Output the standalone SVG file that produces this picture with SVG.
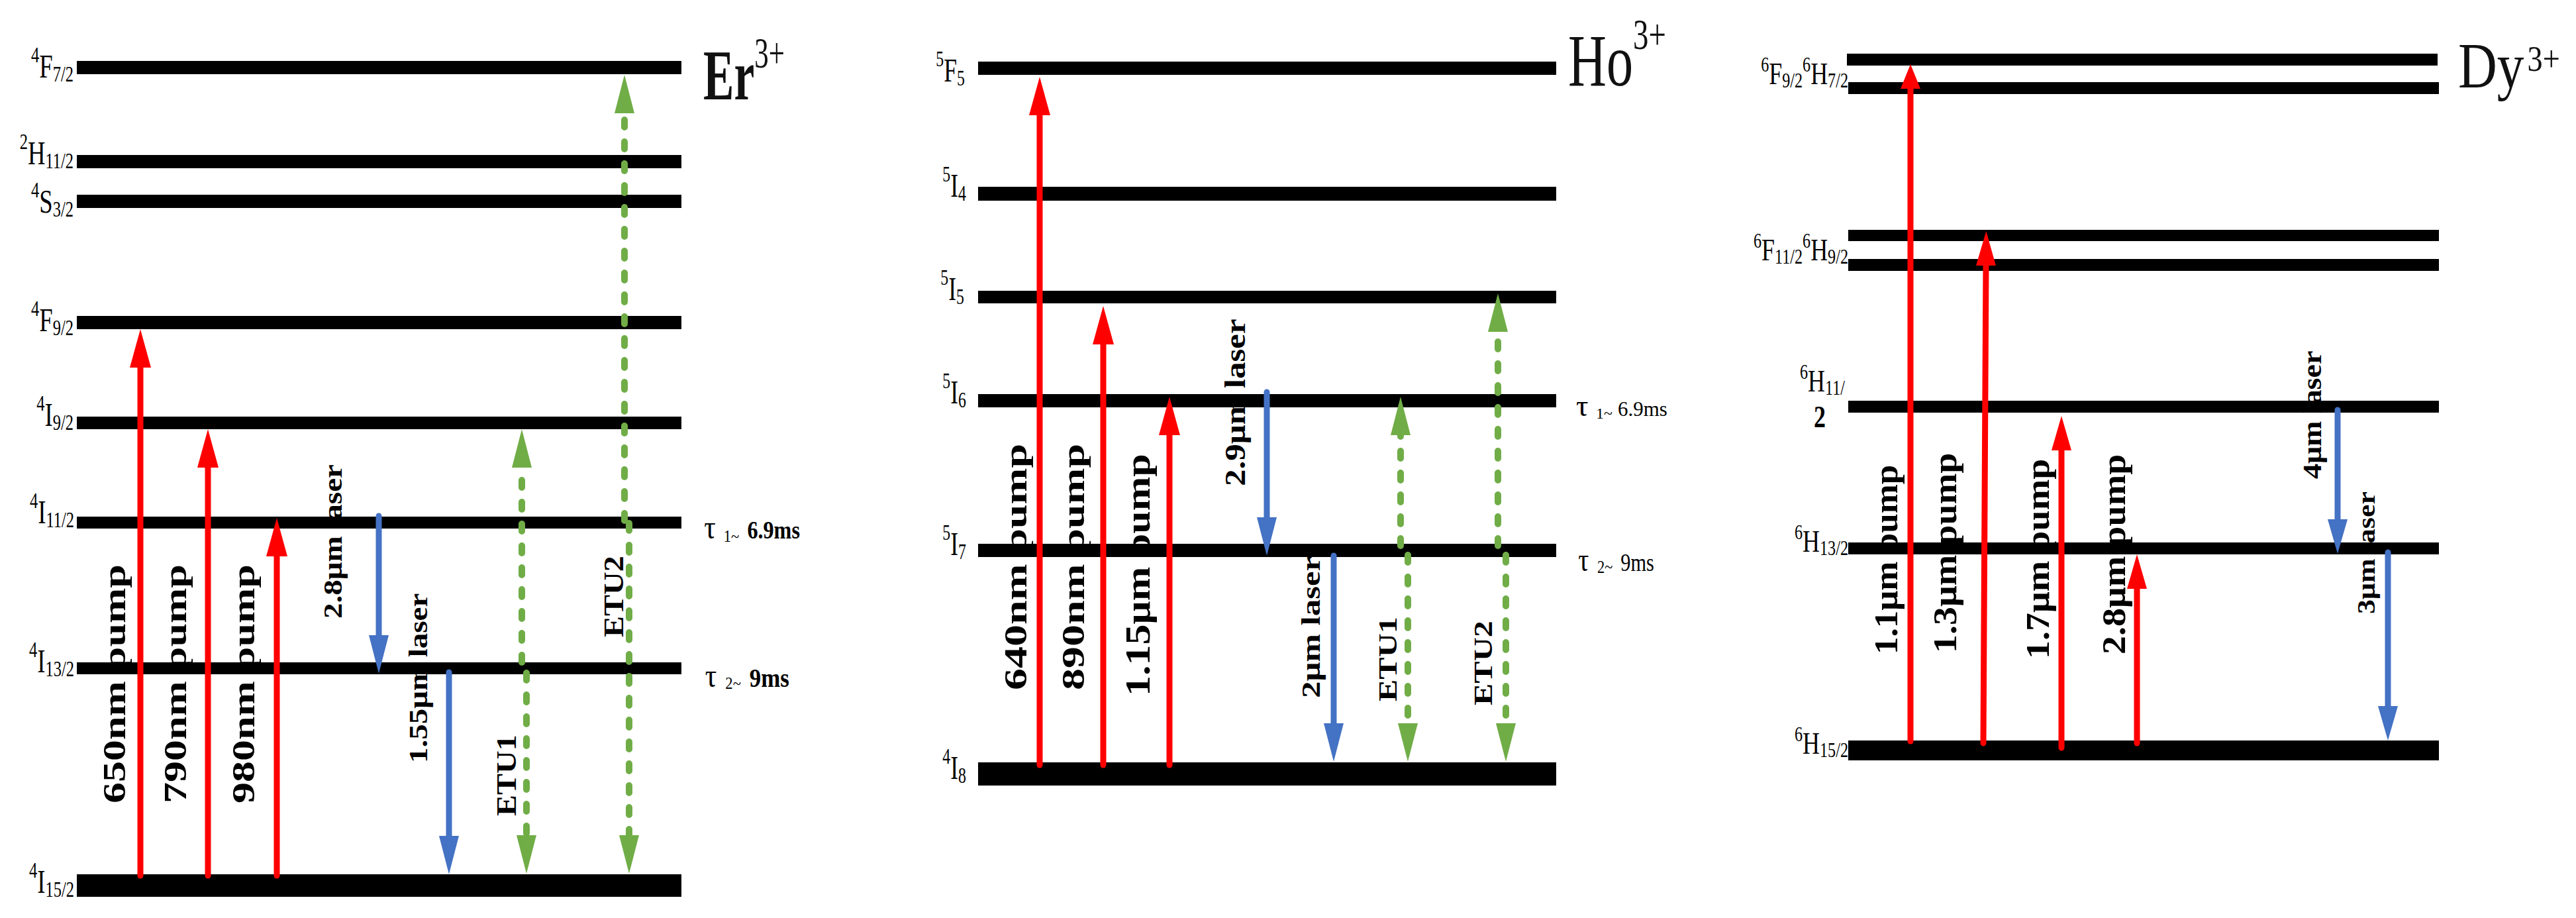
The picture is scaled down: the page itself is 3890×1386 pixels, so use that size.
<svg xmlns="http://www.w3.org/2000/svg" width="3890" height="1386" viewBox="0 0 3890 1386">
<style>
text{font-family:"Liberation Serif","Times New Roman",serif;fill:#000}
.lv{font-size:51px}
.lv .s{font-size:34px}
.dl{font-size:46px}
.dl .s{font-size:31px}
.rl{font-weight:bold}
.ttl{fill:#111}
.bar{fill:#000}
.pump{stroke:#FF0000;stroke-width:9;stroke-linecap:round;fill:none}
.laser{stroke:#4472C4;stroke-width:9;stroke-linecap:round;fill:none}
.etu{stroke:#70AD47;stroke-width:10;stroke-linecap:round;stroke-dasharray:11 22;fill:none}
</style>
<defs>
<marker id="hR" markerUnits="userSpaceOnUse" viewBox="0 0 58 32" markerWidth="58" markerHeight="32" refX="1" refY="16" orient="auto"><path d="M0,0L58,16L0,32z" fill="#FF0000"/></marker>
<marker id="hR2" markerUnits="userSpaceOnUse" viewBox="0 0 52 30" markerWidth="52" markerHeight="30" refX="1" refY="15" orient="auto"><path d="M0,0L52,15L0,30z" fill="#FF0000"/></marker>
<marker id="hR3" markerUnits="userSpaceOnUse" viewBox="0 0 37 30" markerWidth="37" markerHeight="30" refX="1" refY="15" orient="auto"><path d="M0,0L37,15L0,30z" fill="#FF0000"/></marker>
<marker id="hB" markerUnits="userSpaceOnUse" viewBox="0 0 58 30" markerWidth="58" markerHeight="30" refX="1" refY="15" orient="auto"><path d="M0,0L58,15L0,30z" fill="#4472C4"/></marker>
<marker id="hB2" markerUnits="userSpaceOnUse" viewBox="0 0 52 30" markerWidth="52" markerHeight="30" refX="1" refY="15" orient="auto"><path d="M0,0L52,15L0,30z" fill="#4472C4"/></marker>
<marker id="hG" markerUnits="userSpaceOnUse" viewBox="0 0 58 30" markerWidth="58" markerHeight="30" refX="1" refY="15" orient="auto"><path d="M0,0L58,15L0,30z" fill="#70AD47"/></marker>
</defs>
<rect width="3890" height="1386" fill="#fff"/>

<g id="transition-labels" class="rl">
<text font-size="64" transform="translate(189,1213) scale(0.76,1) rotate(-90)">650nm pump</text>
<text font-size="64" transform="translate(281,1213) scale(0.76,1) rotate(-90)">790nm pump</text>
<text font-size="64" transform="translate(384,1213) scale(0.76,1) rotate(-90)">980nm pump</text>
<text font-size="47" transform="translate(516,934) scale(0.87,1) rotate(-90)">2.8μm laser</text>
<text font-size="47" transform="translate(645,1152) scale(0.87,1) rotate(-90)">1.55μm laser</text>
<text font-size="48" transform="translate(779,1232) scale(0.87,1) rotate(-90)">ETU1</text>
<text font-size="48" transform="translate(941,962) scale(0.87,1) rotate(-90)">ETU2</text>

<text font-size="66" transform="translate(1550,1042) scale(0.74,1) rotate(-90)">640nm pump</text>
<text font-size="66" transform="translate(1637,1042) scale(0.74,1) rotate(-90)">890nm pump</text>
<text font-size="62" transform="translate(1736,1051) scale(0.84,1) rotate(-90)">1.15μm pump</text>
<text font-size="51" transform="translate(1880,734) scale(0.85,1) rotate(-90)">2.9μm laser</text>
<text font-size="51" transform="translate(1993,1054) scale(0.8,1) rotate(-90)">2μm laser</text>
<text font-size="50" transform="translate(2109,1059) scale(0.8,1) rotate(-90)">ETU1</text>
<text font-size="50" transform="translate(2253,1065) scale(0.8,1) rotate(-90)">ETU2</text>

<text font-size="53" transform="translate(2865,988) scale(0.95,1) rotate(-90)">1.1μm pump</text>
<text font-size="56" transform="translate(2954,986) scale(0.9,1) rotate(-90)">1.3μm pump</text>
<text font-size="56" transform="translate(3094,995) scale(0.9,1) rotate(-90)">1.7μm pump</text>
<text font-size="56" transform="translate(3209,988) scale(0.9,1) rotate(-90)">2.8μm pump</text>
<text font-size="46" transform="translate(3505,723) scale(0.85,1) rotate(-90)">4μm laser</text>
<text font-size="44" transform="translate(3586,927) scale(0.85,1) rotate(-90)">3μm laser</text>
</g>

<g id="titles">
<text class="ttl" transform="translate(1062,150) scale(0.65,1)"><tspan font-weight="bold" font-size="107">Er</tspan><tspan font-size="66" dy="-48">3+</tspan></text>
<text class="ttl" transform="translate(2368,129) scale(0.71,1)"><tspan font-size="113">Ho</tspan><tspan font-size="66" dy="-55">3+</tspan></text>
<text class="ttl" transform="translate(3712,132) scale(0.84,1)"><tspan font-size="97">Dy</tspan><tspan font-size="55" dx="6" dy="-25">3+</tspan></text>
</g>

<g id="lifetimes">
<text transform="translate(0,813) scale(0.87,1)"><tspan x="1222" font-size="50">τ</tspan><tspan x="1256" font-size="26" dy="5">1~</tspan><tspan x="1297" dy="-5" font-weight="bold" font-size="37">6.9ms</tspan></text>
<text transform="translate(0,1037) scale(0.87,1)"><tspan x="1224" font-size="50">τ</tspan><tspan x="1259" font-size="26" dy="3">2~</tspan><tspan x="1301" dy="-3" font-weight="bold" font-size="40">9ms</tspan></text>
<text y="628"><tspan x="2380" font-size="46">τ</tspan><tspan x="2410" font-size="24" dy="4">1~</tspan><tspan x="2443" dy="-4" font-size="31">6.9ms</tspan></text>
<text transform="translate(0,862) scale(0.8,1)"><tspan x="2979" font-size="50">τ</tspan><tspan x="3015" font-size="28" dy="3">2~</tspan><tspan x="3059" dy="-3" font-size="38">9ms</tspan></text>
</g>

<g id="er-levels">
<g id="er-4F72"><rect class="bar" x="116" y="92" width="913" height="20"/><text class="lv" text-anchor="end" transform="translate(111,117) scale(0.72,1)"><tspan class="s" dy="-23">4</tspan><tspan dy="23">F</tspan><tspan class="s" dy="6">7/2</tspan></text></g>
<g id="er-2H112"><rect class="bar" x="116" y="234" width="913" height="20"/><text class="lv" text-anchor="end" transform="translate(111,248) scale(0.72,1)"><tspan class="s" dy="-23">2</tspan><tspan dy="23">H</tspan><tspan class="s" dy="6">11/2</tspan></text></g>
<g id="er-4S32"><rect class="bar" x="116" y="294" width="913" height="20"/><text class="lv" text-anchor="end" transform="translate(111,321) scale(0.72,1)"><tspan class="s" dy="-23">4</tspan><tspan dy="23">S</tspan><tspan class="s" dy="6">3/2</tspan></text></g>
<g id="er-4F92"><rect class="bar" x="116" y="477" width="913" height="20"/><text class="lv" text-anchor="end" transform="translate(111,500) scale(0.72,1)"><tspan class="s" dy="-23">4</tspan><tspan dy="23">F</tspan><tspan class="s" dy="6">9/2</tspan></text></g>
<g id="er-4I92"><rect class="bar" x="116" y="629" width="913" height="19"/><text class="lv" text-anchor="end" transform="translate(111,643) scale(0.72,1)"><tspan class="s" dy="-23">4</tspan><tspan dy="23">I</tspan><tspan class="s" dy="6">9/2</tspan></text></g>
<g id="er-4I112"><rect class="bar" x="116" y="780" width="913" height="18"/><text class="lv" text-anchor="end" transform="translate(112,790) scale(0.72,1)"><tspan class="s" dy="-23">4</tspan><tspan dy="23">I</tspan><tspan class="s" dy="6">11/2</tspan></text></g>
<g id="er-4I132"><rect class="bar" x="116" y="1000" width="913" height="18"/><text class="lv" text-anchor="end" transform="translate(112,1015) scale(0.72,1)"><tspan class="s" dy="-23">4</tspan><tspan dy="23">I</tspan><tspan class="s" dy="6">13/2</tspan></text></g>
<g id="er-4I152"><rect class="bar" x="116" y="1320" width="913" height="34"/><text class="lv" text-anchor="end" transform="translate(112,1348) scale(0.72,1)"><tspan class="s" dy="-23">4</tspan><tspan dy="23">I</tspan><tspan class="s" dy="6">15/2</tspan></text></g>
</g>

<g id="ho-levels">
<g id="ho-5F5"><rect class="bar" x="1477" y="93" width="873" height="20"/><text class="lv" text-anchor="end" transform="translate(1457,123) scale(0.7,1)"><tspan class="s" dy="-23">5</tspan><tspan dy="23">F</tspan><tspan class="s" dy="6">5</tspan></text></g>
<g id="ho-5I4"><rect class="bar" x="1477" y="282" width="873" height="21"/><text class="lv" text-anchor="end" transform="translate(1459,297) scale(0.7,1)"><tspan class="s" dy="-23">5</tspan><tspan dy="23">I</tspan><tspan class="s" dy="6">4</tspan></text></g>
<g id="ho-5I5"><rect class="bar" x="1477" y="439" width="873" height="19"/><text class="lv" text-anchor="end" transform="translate(1456,453) scale(0.7,1)"><tspan class="s" dy="-23">5</tspan><tspan dy="23">I</tspan><tspan class="s" dy="6">5</tspan></text></g>
<g id="ho-5I6"><rect class="bar" x="1477" y="595" width="873" height="20"/><text class="lv" text-anchor="end" transform="translate(1459,609) scale(0.7,1)"><tspan class="s" dy="-23">5</tspan><tspan dy="23">I</tspan><tspan class="s" dy="6">6</tspan></text></g>
<g id="ho-5I7"><rect class="bar" x="1477" y="821" width="873" height="20"/><text class="lv" text-anchor="end" transform="translate(1459,838) scale(0.7,1)"><tspan class="s" dy="-23">5</tspan><tspan dy="23">I</tspan><tspan class="s" dy="6">7</tspan></text></g>
<g id="ho-4I8"><rect class="bar" x="1477" y="1151" width="873" height="35"/><text class="lv" text-anchor="end" transform="translate(1459,1176) scale(0.7,1)"><tspan class="s" dy="-23">4</tspan><tspan dy="23">I</tspan><tspan class="s" dy="6">8</tspan></text></g>
</g>

<g id="dy-levels">
<g id="dy-6F92-6H72"><rect class="bar" x="2789" y="81" width="892" height="18"/><rect class="bar" x="2791" y="124" width="892" height="18"/><text class="dl" text-anchor="end" transform="translate(2791,127) scale(0.78,1)"><tspan class="s" dy="-19">6</tspan><tspan dy="19">F</tspan><tspan class="s" dy="5">9/2</tspan><tspan class="s" dy="-24">6</tspan><tspan dy="19">H</tspan><tspan class="s" dy="5">7/2</tspan></text></g>
<g id="dy-6F112-6H92"><rect class="bar" x="2791" y="347" width="892" height="17"/><rect class="bar" x="2791" y="391" width="892" height="18"/><text class="dl" text-anchor="end" transform="translate(2791,393) scale(0.78,1)"><tspan class="s" dy="-19">6</tspan><tspan dy="19">F</tspan><tspan class="s" dy="5">11/2</tspan><tspan class="s" dy="-24">6</tspan><tspan dy="19">H</tspan><tspan class="s" dy="5">9/2</tspan></text></g>
<g id="dy-6H112"><rect class="bar" x="2791" y="605" width="892" height="18"/><text class="dl" text-anchor="end" transform="translate(2786,591) scale(0.78,1)"><tspan class="s" dy="-19">6</tspan><tspan dy="19">H</tspan><tspan class="s" dy="5">11/</tspan></text><text class="dl" text-anchor="middle" font-size="24" font-weight="bold" transform="translate(2748,645) scale(0.78,1)">2</text></g>
<g id="dy-6H132"><rect class="bar" x="2791" y="819" width="892" height="18"/><text class="dl" text-anchor="end" transform="translate(2791,833) scale(0.78,1)"><tspan class="s" dy="-19">6</tspan><tspan dy="19">H</tspan><tspan class="s" dy="5">13/2</tspan></text></g>
<g id="dy-6H152"><rect class="bar" x="2791" y="1118" width="892" height="30"/><text class="dl" text-anchor="end" transform="translate(2791,1138) scale(0.78,1)"><tspan class="s" dy="-19">6</tspan><tspan dy="19">H</tspan><tspan class="s" dy="5">15/2</tspan></text></g>
</g>

<g id="connectors">
<path class="pump" d="M212,1322V554" marker-end="url(#hR)"/>
<path class="pump" d="M314,1322V705" marker-end="url(#hR)"/>
<path class="pump" d="M418,1322V839" marker-end="url(#hR)"/>
<path class="laser" d="M572,779V960" marker-end="url(#hB)"/>
<path class="laser" d="M678,1015V1263" marker-end="url(#hB)"/>
<path class="etu" d="M788,1000V705" marker-end="url(#hG)"/>
<path class="etu" d="M795,1016V1262" marker-end="url(#hG)"/>
<path class="etu" d="M943,786V170" marker-end="url(#hG)"/>
<path class="etu" d="M950,790V1262" marker-end="url(#hG)"/>

<path class="pump" d="M1570,1155V173" marker-end="url(#hR)"/>
<path class="pump" d="M1666,1155V519" marker-end="url(#hR)"/>
<path class="pump" d="M1766,1155V656" marker-end="url(#hR)"/>
<path class="laser" d="M1913,592V782" marker-end="url(#hB)"/>
<path class="laser" d="M2014,839V1093" marker-end="url(#hB)"/>
<path class="etu" d="M2115,824V656" marker-end="url(#hG)"/>
<path class="etu" d="M2126,838V1093" marker-end="url(#hG)"/>
<path class="etu" d="M2262,824V500" marker-end="url(#hG)"/>
<path class="etu" d="M2274,838V1093" marker-end="url(#hG)"/>

<path class="pump" d="M2885,1119V133" marker-end="url(#hR3)"/>
<path class="pump" d="M2995,1122L2999,400" marker-end="url(#hR2)"/>
<path class="pump" d="M3113,1129V679" marker-end="url(#hR2)"/>
<path class="pump" d="M3227,1122V888" marker-end="url(#hR2)"/>
<path class="laser" d="M3530,619V785" marker-end="url(#hB2)"/>
<path class="laser" d="M3606,834V1067" marker-end="url(#hB2)"/>
</g>
</svg>
